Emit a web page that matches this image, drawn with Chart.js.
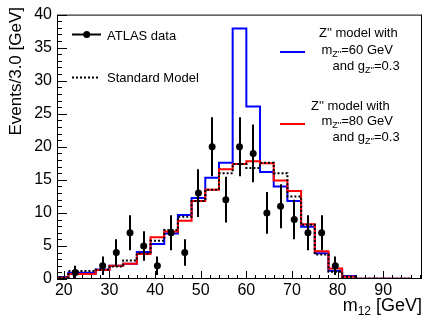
<!DOCTYPE html>
<html><head><meta charset="utf-8">
<script src="https://cdn.jsdelivr.net/npm/chart.js@4.4.1/dist/chart.umd.min.js"></script>
<style>html,body{margin:0;padding:0;background:#fff}#wrap{width:436px;height:321px;position:relative}</style>
</head><body><div id="wrap"><canvas id="c" width="436" height="321"></canvas></div>
<script>
// ---- data ----
const binEdges = [18,21,24,27,30,33,36,39,42,45,48,51,54,57,60,63,66,69,72,75,78,81,84,87,90,93,96,99];
const smValues    = [0.25,1.2,1.2,1.4,1.9,2.8,3.9,5.8,7.4,9.4,11.8,13.5,16.0,17.4,16.8,17.6,16.0,12.5,8.2,3.7,1.1,0.35,0.05,0.03,0.02,0.02,0.01];
const zpp60Values = [0.3,0.95,0.95,1.45,2.0,2.3,4.1,5.3,6.9,9.7,12.25,15.3,17.6,37.9,26.1,16.2,14.0,11.8,7.9,3.9,1.25,0.45,0.05,0.03,0.02,0.02,0.01];
const zpp80Values = [0.2,0.75,0.75,1.35,2.0,2.3,3.8,6.3,7.2,8.8,11.8,13.5,16.6,17.4,17.8,17.5,14.9,13.3,8.3,4.2,1.6,0.35,0.05,0.03,0.02,0.02,0.01];
const dataCenters = [22.5,25.5,28.5,31.5,34.5,37.5,40.5,43.5,46.5,49.5,52.5,55.5,58.5,61.5,64.5,67.5,70.5,73.5,76.5,79.5];
const dataCounts  = [1,null,2,4,7,5,2,7,4,13,20,12,20,19,10,11,9,7,7,2];
const dataErrors  = [1,null,1.41,2,2.65,2.24,1.41,2.65,2,3.61,4.47,3.46,4.47,4.36,3.16,3.32,3,2.65,2.65,1.41];
const xTickLabels = [20,30,40,50,60,70,80,90];
const yTickLabels = [0,5,10,15,20,25,30,35,40];

const FONT = "'Liberation Sans', Arial, Helvetica, sans-serif";

function histPoints(vals){
  return binEdges.map((e,i)=>({x:e, y: vals[Math.min(i, vals.length-1)]}));
}

const decor = {
  id:'decor',
  beforeDatasetDraw(chart, args){
    if (args.index !== 0) return;
    const {ctx, scales:{x,y}} = chart;
    ctx.save();
    ctx.strokeStyle = '#000'; ctx.lineWidth = 2;
    dataCenters.forEach((c,i)=>{
      if (dataCounts[i]==null) return;
      const px = Math.round(x.getPixelForValue(c));
      ctx.beginPath();
      ctx.moveTo(px, y.getPixelForValue(dataCounts[i]-dataErrors[i]));
      ctx.lineTo(px, y.getPixelForValue(dataCounts[i]+dataErrors[i]));
      ctx.stroke();
    });
    ctx.restore();
  },
  afterDraw(chart){
    const {ctx, chartArea:a, scales:{x,y}} = chart;
    ctx.save();
    // frame
    ctx.strokeStyle = '#000'; ctx.lineWidth = 1;
    ctx.strokeRect(a.left+0.5, a.top+0.5, a.right-a.left-1, a.bottom-a.top-1);
    // y ticks
    ctx.beginPath();
    for (let v=0; v<=40; v++){
      const py = Math.round(y.getPixelForValue(v))+0.5;
      const len = (v%5===0)?10:5;
      ctx.moveTo(a.left, py); ctx.lineTo(a.left+len, py);
    }
    // x ticks
    for (let v=20; v<=98; v+=2){
      const px = Math.round(x.getPixelForValue(v))+0.5;
      const len = (v%10===0)?8:4;
      ctx.moveTo(px, a.bottom); ctx.lineTo(px, a.bottom-len);
    }
    ctx.stroke();
    // axis titles
    ctx.fillStyle = '#000';
    ctx.save();
    ctx.translate(21, 7);
    ctx.rotate(-Math.PI/2);
    ctx.font = '17px '+FONT; ctx.textAlign = 'right'; ctx.textBaseline='alphabetic';
    ctx.fillText('Events/3.0 [GeV]', 0, 0);
    ctx.restore();
    drawRich(ctx, 422, 311, [{t:'m',s:18},{t:'12',s:12,dy:4},{t:' [GeV]',s:18}], 'right');
    // legend left
    ctx.strokeStyle='#000'; ctx.lineWidth=2;
    ctx.beginPath(); ctx.moveTo(72,34.5); ctx.lineTo(101,34.5); ctx.stroke();
    ctx.beginPath(); ctx.arc(86.7,34.5,3.5,0,Math.PI*2); ctx.fill();
    ctx.font='13px '+FONT; ctx.textAlign='left'; ctx.textBaseline='alphabetic';
    ctx.fillText('ATLAS data', 107, 39.5);
    ctx.setLineDash([2,2]);
    ctx.beginPath(); ctx.moveTo(72,77.5); ctx.lineTo(99,77.5); ctx.stroke();
    ctx.setLineDash([]);
    ctx.fillText('Standard Model', 107, 82);
    // legend right blue
    ctx.strokeStyle='#0000ff';
    ctx.beginPath(); ctx.moveTo(280,52); ctx.lineTo(305,52); ctx.stroke();
    ctx.fillText("Z'' model with", 319, 37);
    drawRich(ctx, 321.5, 54, [{t:'m',s:13},{t:"Z''",s:9,dy:3},{t:'=60 GeV',s:13}], 'left');
    drawRich(ctx, 332.5, 70, [{t:'and g',s:13},{t:"Z''",s:9,dy:3},{t:'=0.3',s:13}], 'left');
    // legend right red
    ctx.strokeStyle='#ff0000';
    ctx.beginPath(); ctx.moveTo(280,124); ctx.lineTo(305,124); ctx.stroke();
    ctx.font='13px '+FONT;
    ctx.fillText("Z'' model with", 311, 110);
    drawRich(ctx, 321.5, 125, [{t:'m',s:13},{t:"Z''",s:9,dy:3},{t:'=80 GeV',s:13}], 'left');
    drawRich(ctx, 332.5, 141, [{t:'and g',s:13},{t:"Z''",s:9,dy:3},{t:'=0.3',s:13}], 'left');
    ctx.restore();
  }
};

function drawRich(ctx, x, y, parts, align){
  ctx.save();
  ctx.textAlign='left'; ctx.textBaseline='alphabetic'; ctx.fillStyle='#000';
  let total=0;
  parts.forEach(p=>{ctx.font=p.s+'px '+FONT; p.w=ctx.measureText(p.t).width; total+=p.w;});
  let cx = align==='right' ? x-total : x;
  parts.forEach(p=>{ctx.font=p.s+'px '+FONT; ctx.fillText(p.t, cx, y+(p.dy||0)); cx+=p.w;});
  ctx.restore();
}

new Chart(document.getElementById('c'), {
  type:'line',
  data:{datasets:[
    {label:'ATLAS data', type:'scatter', data:dataCenters.map((c,i)=>({x:c,y:dataCounts[i]})).filter(p=>p.y!=null),
     pointRadius:3.5, pointBackgroundColor:'#000', pointBorderColor:'#000', pointBorderWidth:0, showLine:false},
    {label:'Standard Model', data:histPoints(smValues), stepped:true, borderColor:'#000', borderWidth:2, borderDash:[2,2], pointRadius:0, fill:false},
    {label:'Z80', data:histPoints(zpp80Values), stepped:true, borderColor:'#ff0000', borderWidth:2, pointRadius:0, fill:false},
    {label:'Z60', data:histPoints(zpp60Values), stepped:true, borderColor:'#0000ff', borderWidth:2, pointRadius:0, fill:false}
  ]},
  options:{
    responsive:false, animation:false, devicePixelRatio:1,
    layout:{padding:{left:0,right:14,top:9,bottom:0}},
    plugins:{legend:{display:false}, tooltip:{enabled:false}},
    scales:{
      x:{type:'linear', min:18.5, max:98.5,
         afterBuildTicks(s){ s.ticks = xTickLabels.map(v=>({value:v})); },
         afterFit(s){ s.height = 42; },
         grid:{display:false, drawTicks:false}, border:{display:false},
         ticks:{font:{family:FONT,size:16}, color:'#000', padding:2, maxRotation:0, autoSkip:false}},
      y:{type:'linear', min:0, max:40,
         afterBuildTicks(s){ s.ticks = yTickLabels.map(v=>({value:v})); },
         afterFit(s){ s.width = 57; },
         grid:{display:false, drawTicks:false}, border:{display:false},
         ticks:{font:{family:FONT,size:16}, color:'#000', padding:5, autoSkip:false}}
    }
  },
  plugins:[decor]
});
</script></body></html>
